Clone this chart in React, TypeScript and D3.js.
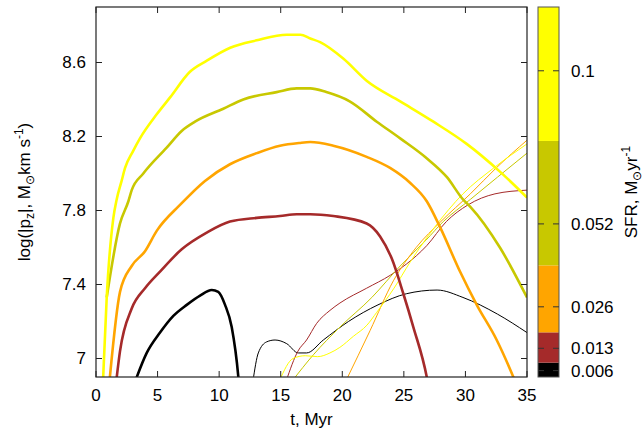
import React from "react";
import * as d3 from "d3";

// ---- data: time (Myr) and log|p_z| for each run, thick = total, thin = second component ----
const yellowThickT = [0.55, 0.87, 1.41, 1.68, 2.08, 2.36, 3.0, 3.57, 4.93, 6.0, 7.63, 9.0, 10.9, 13.05, 15.5, 16.6, 17.4, 18.2, 20.1, 22.0, 24.7, 27.4, 30.1, 32.8, 35.0];
const yellowThickV = [6.85, 7.33, 7.76, 7.86, 7.96, 8.03, 8.12, 8.19, 8.32, 8.41, 8.55, 8.61, 8.68, 8.72, 8.75, 8.75, 8.73, 8.71, 8.62, 8.5, 8.39, 8.28, 8.16, 8.01, 7.87];

const oliveThickT = [0.87, 1.95, 2.63, 2.9, 3.84, 5.74, 6.96, 8.04, 10.34, 11.96, 14.67, 16.3, 17.4, 18.7, 20.6, 22.8, 24.7, 26.9, 28.5, 29.8, 30.4, 32.8, 35.0];
const oliveThickV = [7.33, 7.73, 7.85, 7.91, 8.0, 8.14, 8.23, 8.28, 8.35, 8.4, 8.44, 8.46, 8.46, 8.44, 8.39, 8.28, 8.19, 8.08, 7.98, 7.86, 7.82, 7.6, 7.33];

const orangeThickT = [1.1, 1.95, 2.9, 3.98, 4.93, 6.82, 8.85, 10.88, 13.05, 14.94, 16.5, 17.4, 19.27, 21.98, 23.88, 25.5, 26.86, 27.94, 29.56, 30.92, 32.54, 33.89, 34.2];
const orangeThickV = [6.88, 7.36, 7.5, 7.58, 7.69, 7.83, 7.96, 8.05, 8.11, 8.15, 8.165, 8.17, 8.15, 8.09, 8.03, 7.95, 7.85, 7.71, 7.47, 7.29, 7.1, 6.9, 6.85];

const brownThickT = [1.65, 1.95, 2.9, 3.98, 5.2, 6.96, 8.99, 10.88, 13.05, 14.94, 16.3, 17.4, 19.27, 21.98, 23.07, 24.02, 24.96, 25.77, 26.86, 27.0];
const brownThickV = [6.88, 7.04, 7.27, 7.38, 7.47, 7.59, 7.68, 7.74, 7.76, 7.77, 7.78, 7.78, 7.77, 7.73, 7.66, 7.54, 7.35, 7.17, 6.9, 6.85];

const blackThickT = [3.2, 4.12, 5.2, 6.28, 7.37, 8.45, 9.4, 9.93, 10.48, 11.02, 11.56, 11.6];
const blackThickV = [6.88, 7.03, 7.14, 7.23, 7.29, 7.34, 7.37, 7.36, 7.29, 7.17, 6.9, 6.87];

const blackThinT = [12.75, 13.18, 13.86, 14.54, 15.49, 16.43, 17.1, 18.46, 20.5, 22.9, 25.2, 27.7, 29.8, 32.6, 35.0];
const blackThinV = [6.88, 7.03, 7.09, 7.1, 7.08, 7.03, 7.03, 7.1, 7.2, 7.29, 7.35, 7.37, 7.33, 7.24, 7.14];

const brownThinT = [15.45, 16.4, 17.1, 17.92, 19.0, 19.81, 21.98, 23.9, 25.2, 26.86, 28.45, 30.2, 32.4, 35.0];
const brownThinV = [6.88, 7.04, 7.1, 7.19, 7.26, 7.3, 7.38, 7.45, 7.51, 7.61, 7.74, 7.83, 7.89, 7.91];

const yellowThinT = [14.9, 16.0, 17.0, 18.0, 19.0, 19.8, 20.9, 22.0, 22.8, 24.2, 25.5, 27.5, 29.8, 32.3, 35.0];
const yellowThinV = [6.88, 7.0, 7.015, 7.01, 7.03, 7.06, 7.12, 7.18, 7.25, 7.38, 7.52, 7.71, 7.89, 8.03, 8.16];

const oliveThinT = [15.95, 17.65, 19.81, 22.4, 24.7, 26.8, 28.2, 30.4, 32.6, 35.0];
const oliveThinV = [6.88, 7.02, 7.17, 7.33, 7.5, 7.64, 7.74, 7.86, 7.98, 8.11];

const orangeThinT = [20.3, 22.25, 24.15, 26.0, 28.0, 30.4, 32.5, 35.0];
const orangeThinV = [6.88, 7.15, 7.42, 7.6, 7.74, 7.89, 8.03, 8.18];

// ---- axes ----
const xTicks = [0, 5, 10, 15, 20, 25, 30, 35];
const yTicks = [7, 7.4, 7.8, 8.2, 8.6];
const yTickLabels = ["7", "7.4", "7.8", "8.2", "8.6"];

// ---- colour bar (SFR, linear) ----
const sfrBounds = [0.004, 0.0085, 0.018, 0.039, 0.078, 0.12];
const sfrColors = ["#000000", "#a52a2a", "#ffa500", "#c8c800", "#ffff00"];
const sfrTicks = [0.1, 0.052, 0.026, 0.013, 0.006];
const sfrTickLabels = ["0.1", "0.052", "0.026", "0.013", "0.006"];

const W = 643;
const H = 433;
const PL = 96, PR = 527, PT = 7, PB = 377;
const CB_L = 538, CB_R = 559;
const FONT = "'Liberation Sans', Arial, sans-serif";
const FS = 17;
const FS_SUB = 12;

const zip = (t: number[], v: number[]) => t.map((x, i) => [x, v[i]] as [number, number]);

export default function App() {
  const x = d3.scaleLinear().domain([0, 35]).range([PL, PR]);
  const y = d3.scaleLinear().domain([6.9, 8.9]).range([PB, PT]);
  const c = d3.scaleLinear().domain([0.004, 0.12]).range([PB, PT]);

  const line = d3
    .line<[number, number]>()
    .x((d) => x(d[0]))
    .y((d) => y(d[1]))
    .curve(d3.curveMonotoneX);

  const series = [
    { t: blackThinT, v: blackThinV, color: "#000000", w: 1 },
    { t: brownThinT, v: brownThinV, color: "#a52a2a", w: 1 },
    { t: oliveThinT, v: oliveThinV, color: "#c8c800", w: 1 },
    { t: orangeThinT, v: orangeThinV, color: "#ffa500", w: 1 },
    { t: yellowThinT, v: yellowThinV, color: "#ffff00", w: 1 },
    { t: blackThickT, v: blackThickV, color: "#000000", w: 2.6 },
    { t: brownThickT, v: brownThickV, color: "#a52a2a", w: 2.6 },
    { t: orangeThickT, v: orangeThickV, color: "#ffa500", w: 2.6 },
    { t: oliveThickT, v: oliveThickV, color: "#c8c800", w: 2.6 },
    { t: yellowThickT, v: yellowThickV, color: "#ffff00", w: 2.6 },
  ];

  const tick = 6;
  const axisColor = "#222";

  return (
    <svg
      width={W}
      height={H}
      style={{ position: "absolute", left: 0, top: 0, display: "block", background: "#fff" }}
      fontFamily={FONT}
      fontSize={FS}
    >
      <defs>
        <clipPath id="plotArea">
          <rect x={PL} y={PT} width={PR - PL} height={PB - PT} />
        </clipPath>
      </defs>

      {/* curves */}
      <g clipPath="url(#plotArea)" fill="none" strokeLinejoin="round">
        {series.map((s, i) => (
          <path key={i} d={line(zip(s.t, s.v)) || ""} stroke={s.color} strokeWidth={s.w} />
        ))}
      </g>

      {/* ticks, mirrored on all four sides */}
      <g stroke={axisColor} strokeWidth={1}>
        {xTicks.map((t) => (
          <g key={"x" + t}>
            <line x1={x(t)} x2={x(t)} y1={PB} y2={PB - tick} />
            <line x1={x(t)} x2={x(t)} y1={PT} y2={PT + tick} />
          </g>
        ))}
        {yTicks.map((v) => (
          <g key={"y" + v}>
            <line x1={PL} x2={PL + tick} y1={y(v)} y2={y(v)} />
            <line x1={PR} x2={PR - tick} y1={y(v)} y2={y(v)} />
          </g>
        ))}
      </g>
      <rect x={PL} y={PT} width={PR - PL} height={PB - PT} fill="none" stroke={axisColor} strokeWidth={1.2} />

      {/* tick labels */}
      <g fill="#000">
        {xTicks.map((t) => (
          <text key={"xl" + t} x={x(t)} y={PB + 24} textAnchor="middle">
            {t}
          </text>
        ))}
        {yTicks.map((v, i) => (
          <text key={"yl" + v} x={PL - 10} y={y(v)} dy="0.35em" textAnchor="end">
            {yTickLabels[i]}
          </text>
        ))}
      </g>

      {/* axis titles */}
      <text x={(PL + PR) / 2} y={425} textAnchor="middle">
        t, Myr
      </text>
      <text transform={`translate(30,${(PT + PB) / 2}) rotate(-90)`} textAnchor="middle">
        log(|p
        <tspan fontSize={FS_SUB} dy={4}>z</tspan>
        <tspan dy={-4}>|, M</tspan>
        <tspan fontSize={FS_SUB} dy={4}>⊙</tspan>
        <tspan dy={-4}>km s</tspan>
        <tspan fontSize={FS_SUB} dy={-7}>-1</tspan>
        <tspan dy={7}>)</tspan>
      </text>

      {/* colour bar */}
      <g>
        {sfrColors.map((col, i) => (
          <rect
            key={"cb" + i}
            x={CB_L}
            y={c(sfrBounds[i + 1])}
            width={CB_R - CB_L}
            height={c(sfrBounds[i]) - c(sfrBounds[i + 1])}
            fill={col}
          />
        ))}
        <rect x={CB_L} y={PT} width={CB_R - CB_L} height={PB - PT} fill="none" stroke="#555" strokeWidth={1} />
        <g stroke="#333" strokeWidth={1}>
          {sfrTicks.map((v) => (
            <g key={"ct" + v}>
              <line x1={CB_L} x2={CB_L + 6} y1={c(v)} y2={c(v)} />
              <line x1={CB_R} x2={CB_R - 6} y1={c(v)} y2={c(v)} />
            </g>
          ))}
        </g>
        {sfrTicks.map((v, i) => (
          <text key={"cl" + v} x={CB_R + 12} y={c(v)} dy="0.35em">
            {sfrTickLabels[i]}
          </text>
        ))}
        <text transform={`translate(637,${(PT + PB) / 2}) rotate(-90)`} textAnchor="middle">
          SFR, M
          <tspan fontSize={FS_SUB} dy={4}>⊙</tspan>
          <tspan dy={-4}>yr</tspan>
          <tspan fontSize={FS_SUB} dy={-7}>-1</tspan>
        </text>
      </g>
    </svg>
  );
}
